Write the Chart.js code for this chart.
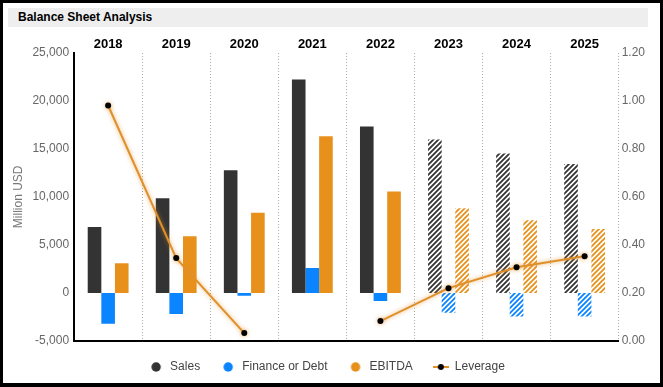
<!DOCTYPE html>
<html>
<head>
<meta charset="utf-8">
<script src="https://cdn.jsdelivr.net/npm/chart.js@4"></script>
<style>
body{margin:0;background:#fff}
#wrap{position:relative;width:663px;height:387px;box-sizing:border-box;border:3px solid #000;border-bottom-width:4px}
#title{position:absolute;left:5px;top:5px;width:640px;height:19px;background:#eeeeee;font:bold 12px Arial,"Liberation Sans",sans-serif;line-height:19px;padding-left:10px;box-sizing:border-box;color:#000}
#box{position:absolute;left:0;top:27px;width:657px;height:353px}
</style>
</head>
<body>
<div id="wrap">
  <div id="title">Balance Sheet Analysis</div>
  <div id="box"><canvas id="myBalanceChart"></canvas></div>
</div>
<script>
const years = ['2018', '2019', '2020', '2021', '2022', '2023', '2024', '2025'];
const estimateYears = ['2023', '2024', '2025'];
const sales = [6850, 9850, 12750, 22200, 17300, 15950, 14500, 13400];
const finance = [-3200, -2200, -300, 2600, -850, -2050, -2450, -2450];
const ebitda = [3100, 5900, 8350, 16300, 10550, 8800, 7550, 6650];
const leverage = [0.98, 0.345, 0.033, null, 0.083, 0.22, 0.307, 0.353];
const leftTicks = [-5000, 0, 5000, 10000, 15000, 20000, 25000];
const rightTicks = [0, 0.2, 0.4, 0.6, 0.8, 1.0, 1.2];

const SALES_COLOR = '#333333';
const FINANCE_COLOR = '#0a84ff';
const EBITDA_COLOR = '#e8901c';
const LEVERAGE_COLOR = '#e0902a';

function stripes(color) {
    var c = document.createElement('canvas');
    c.width = 5; c.height = 5;
    var ctx = c.getContext('2d');
    ctx.fillStyle = '#fff';
    ctx.fillRect(0, 0, 5, 5);
    ctx.strokeStyle = color;
    ctx.lineWidth = 1.8;
    ctx.beginPath();
    ctx.moveTo(0, 5); ctx.lineTo(5, 0);
    ctx.moveTo(-1, 1); ctx.lineTo(1, -1);
    ctx.moveTo(4, 6); ctx.lineTo(6, 4);
    ctx.stroke();
    return ctx.createPattern(c, 'repeat');
}

function barColor(color) {
    var pattern = stripes(color);
    return function(ctx) {
        return estimateYears.includes(years[ctx.dataIndex]) ? pattern : color;
    };
}

// little images for the legend
function legendDot(color) {
    var c = document.createElement('canvas');
    c.width = 16; c.height = 10;
    var ctx = c.getContext('2d');
    ctx.fillStyle = color;
    ctx.beginPath();
    ctx.arc(8, 5, 4.7, 0, Math.PI * 2);
    ctx.fill();
    return c;
}
function legendLine() {
    var c = document.createElement('canvas');
    c.width = 16; c.height = 10;
    var ctx = c.getContext('2d');
    ctx.strokeStyle = LEVERAGE_COLOR;
    ctx.lineWidth = 2;
    ctx.beginPath();
    ctx.moveTo(0, 5); ctx.lineTo(16, 5);
    ctx.stroke();
    ctx.fillStyle = '#000';
    ctx.beginPath();
    ctx.arc(8, 5, 3, 0, Math.PI * 2);
    ctx.fill();
    return c;
}
const legendIcons = [legendDot(SALES_COLOR), legendDot(FINANCE_COLOR), legendDot(EBITDA_COLOR), legendLine()];

const glowLine = {
    id: 'glowLine',
    beforeDatasetDraw(chart, args) {
        if (args.index === 3) {
            chart.ctx.save();
            chart.ctx.shadowColor = 'rgba(224,144,42,0.7)';
            chart.ctx.shadowBlur = 4;
        }
    },
    afterDatasetDraw(chart, args) {
        if (args.index === 3) chart.ctx.restore();
    }
};

var ctx = document.getElementById('myBalanceChart').getContext('2d');
var myBalanceChart = new Chart(ctx, {
    type: 'bar',
    data: {
        labels: years,
        datasets: [
            { label: 'Sales', data: sales, backgroundColor: barColor(SALES_COLOR), order: 1, yAxisID: 'y' },
            { label: 'Finance or Debt', data: finance, backgroundColor: barColor(FINANCE_COLOR), order: 1, yAxisID: 'y' },
            { label: 'EBITDA', data: ebitda, backgroundColor: barColor(EBITDA_COLOR), order: 1, yAxisID: 'y' },
            {
                label: 'Leverage', type: 'line', data: leverage, yAxisID: 'y2', order: 0,
                borderColor: LEVERAGE_COLOR, borderWidth: 2, backgroundColor: '#000',
                pointRadius: 3, pointBackgroundColor: '#000', pointBorderWidth: 0,
                tension: 0, spanGaps: false
            }
        ]
    },
    options: {
        responsive: true,
        maintainAspectRatio: false,
        animation: false,
        layout: { padding: { left: 2, right: 12, top: 7, bottom: 0 } },
        datasets: { bar: { categoryPercentage: 0.6, barPercentage: 1.0 } },
        scales: {
            x: {
                position: 'top',
                offset: true,
                grid: {
                    display: true, offset: true, drawTicks: false, lineWidth: 1,
                    color: function(c) { return c.index === 0 ? 'rgba(0,0,0,0)' : '#aaaaaa'; }
                },
                border: { display: false, dash: [1, 2] },
                ticks: { color: '#000', font: { family: 'Arial', size: 13, weight: 'bold' }, padding: 0, maxRotation: 0 }
            },
            x2: {
                position: 'bottom',
                type: 'category',
                offset: true,
                grid: { display: false, drawTicks: false },
                border: { display: true, color: '#000', width: 2 },
                ticks: { display: false }
            },
            y: {
                position: 'left',
                min: -5000,
                max: 25000,
                afterBuildTicks: function(axis) { axis.ticks = leftTicks.map(function(v) { return { value: v }; }); },
                grid: { display: false, drawTicks: false },
                border: { display: true, color: '#000', width: 2 },
                title: { display: true, text: 'Million USD', color: '#777', font: { family: 'Arial', size: 12 }, padding: { top: 6, bottom: 2 } },
                ticks: {
                    color: '#666', font: { family: 'Arial', size: 12 }, padding: 5,
                    callback: function(v) { return v.toLocaleString('en-US'); }
                }
            },
            y2: {
                position: 'right',
                min: 0,
                max: 1.2,
                afterBuildTicks: function(axis) { axis.ticks = rightTicks.map(function(v) { return { value: v }; }); },
                grid: { display: false, drawTicks: false },
                border: { display: false },
                ticks: {
                    color: '#666', font: { family: 'Arial', size: 12 }, padding: 3,
                    callback: function(v) { return v.toFixed(2); }
                }
            }
        },
        plugins: {
            tooltip: { enabled: false },
            legend: {
                position: 'bottom',
                labels: {
                    usePointStyle: true,
                    pointStyleWidth: 16,
                    boxHeight: 10,
                    padding: 20,
                    color: '#444',
                    font: { family: 'Arial', size: 12 },
                    sort: function(a, b) { return a.datasetIndex - b.datasetIndex; },
                    generateLabels: function(chart) {
                        var items = Chart.defaults.plugins.legend.labels.generateLabels(chart);
                        items.forEach(function(it) { it.pointStyle = legendIcons[it.datasetIndex]; });
                        return items;
                    }
                }
            }
        }
    },
    plugins: [glowLine]
});
</script>
</body>
</html>
